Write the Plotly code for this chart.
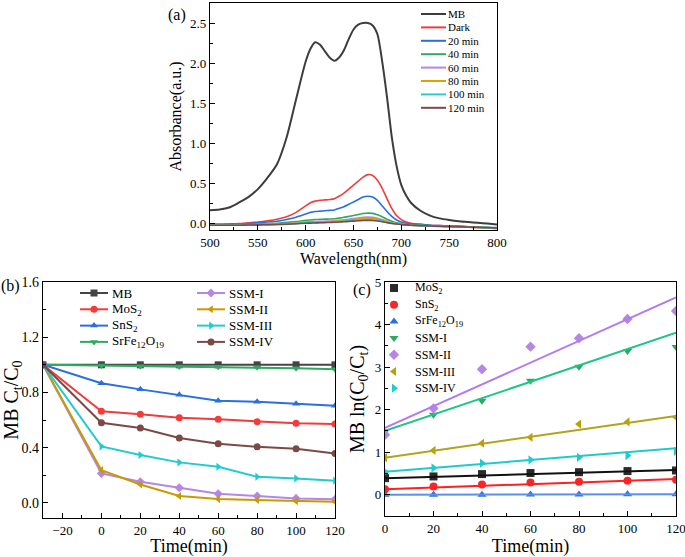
import plotly.graph_objects as go

# ---- (a) UV-vis spectra ----
wavelength = [500, 510, 520, 530, 540, 550, 560, 570, 580, 590,
              600, 605, 610, 615, 620, 625, 630, 635, 640, 645,
              650, 655, 660, 665, 670, 675, 680, 685, 690, 695,
              700, 705, 710, 720, 730, 740, 750, 760, 770, 780, 790, 800]

abs_mb = [0.165, 0.175, 0.20, 0.26, 0.33, 0.43, 0.57, 0.74, 1.07, 1.55,
          2.02, 2.18, 2.26, 2.23, 2.15, 2.07, 2.03, 2.07, 2.16, 2.30,
          2.42, 2.48, 2.50, 2.50, 2.47, 2.36, 2.02, 1.58, 1.08, 0.72,
          0.48, 0.35, 0.26, 0.16, 0.10, 0.065, 0.045, 0.03, 0.02, 0.01, 0.0, -0.01]
abs_dark = [-0.01, -0.01, -0.005, 0.0, 0.01, 0.02, 0.035, 0.055, 0.085, 0.14,
            0.22, 0.26, 0.28, 0.29, 0.295, 0.30, 0.31, 0.34, 0.38, 0.43,
            0.48, 0.53, 0.58, 0.61, 0.60, 0.54, 0.44, 0.31, 0.19, 0.10,
            0.05, 0.02, 0.005, -0.01, -0.02, -0.025, -0.03, -0.035, -0.04, -0.045, -0.055, -0.06]
abs_20 = [-0.01, -0.01, -0.01, -0.005, 0.0, 0.01, 0.02, 0.03, 0.05, 0.08,
          0.12, 0.14, 0.15, 0.155, 0.16, 0.165, 0.17, 0.19, 0.21, 0.24,
          0.27, 0.30, 0.33, 0.34, 0.33, 0.29, 0.22, 0.15, 0.09, 0.045,
          0.02, 0.005, -0.005, -0.01, -0.02, -0.025, -0.03, -0.035, -0.04, -0.045, -0.05, -0.05]
abs_40 = [-0.015, -0.015, -0.015, -0.01, -0.01, -0.005, 0.0, 0.005, 0.015, 0.025,
          0.04, 0.045, 0.05, 0.052, 0.055, 0.057, 0.06, 0.068, 0.078, 0.09,
          0.10, 0.113, 0.125, 0.13, 0.127, 0.11, 0.085, 0.055, 0.03, 0.01,
          0.0, -0.01, -0.015, -0.02, -0.025, -0.03, -0.03, -0.035, -0.04, -0.045, -0.05, -0.055]
abs_60 = [-0.02, -0.02, -0.02, -0.02, -0.015, -0.015, -0.01, -0.005, 0.0, 0.01,
          0.02, 0.022, 0.025, 0.027, 0.03, 0.032, 0.035, 0.04, 0.047, 0.055,
          0.062, 0.07, 0.077, 0.08, 0.077, 0.065, 0.05, 0.03, 0.012, 0.0,
          -0.008, -0.015, -0.02, -0.025, -0.03, -0.035, -0.04, -0.04, -0.045, -0.05, -0.055, -0.06]
abs_80 = [-0.02, -0.02, -0.02, -0.02, -0.015, -0.015, -0.01, -0.008, -0.003, 0.005,
          0.013, 0.016, 0.018, 0.02, 0.022, 0.025, 0.028, 0.032, 0.038, 0.044,
          0.05, 0.056, 0.062, 0.065, 0.062, 0.053, 0.04, 0.024, 0.01, 0.0,
          -0.01, -0.015, -0.02, -0.025, -0.03, -0.035, -0.04, -0.04, -0.045, -0.05, -0.055, -0.06]
abs_100 = [-0.02, -0.02, -0.02, -0.02, -0.018, -0.016, -0.013, -0.01, -0.006, 0.0,
           0.008, 0.01, 0.012, 0.014, 0.016, 0.018, 0.02, 0.024, 0.029, 0.034,
           0.039, 0.044, 0.048, 0.05, 0.048, 0.041, 0.03, 0.017, 0.005, -0.003,
           -0.01, -0.015, -0.02, -0.025, -0.03, -0.033, -0.036, -0.04, -0.043, -0.046, -0.05, -0.055]
abs_120 = [-0.02, -0.02, -0.02, -0.02, -0.018, -0.016, -0.014, -0.011, -0.008, -0.003,
           0.004, 0.006, 0.008, 0.01, 0.012, 0.014, 0.016, 0.019, 0.023, 0.027,
           0.031, 0.035, 0.038, 0.04, 0.038, 0.032, 0.023, 0.012, 0.002, -0.005,
           -0.011, -0.016, -0.02, -0.025, -0.03, -0.033, -0.036, -0.04, -0.043, -0.046, -0.05, -0.055]

spec_names = ["MB", "Dark", "20 min", "40 min", "60 min", "80 min", "100 min", "120 min"]
spec_data = [abs_mb, abs_dark, abs_20, abs_40, abs_60, abs_80, abs_100, abs_120]
spec_colors = ["#3d3d3d", "#f03c3c", "#2a6fdb", "#2faa60", "#b586e8", "#d9a300", "#20d0d0", "#7b4a48"]

# ---- (b) Ct/C0 vs time ----
time_b = [-30, 0, 20, 40, 60, 80, 100, 120]
ct_mb = [1.0, 1.0, 1.0, 1.0, 1.0, 1.0, 1.0, 1.0]
ct_mos2 = [1.0, 0.663, 0.641, 0.617, 0.605, 0.588, 0.576, 0.571]
ct_sns2 = [1.0, 0.866, 0.822, 0.783, 0.740, 0.733, 0.718, 0.704]
ct_srfe = [1.0, 0.995, 0.99, 0.988, 0.986, 0.982, 0.975, 0.967]
ct_ssm1 = [1.0, 0.213, 0.152, 0.109, 0.065, 0.049, 0.032, 0.025]
ct_ssm2 = [1.0, 0.237, 0.133, 0.049, 0.027, 0.02, 0.012, 0.008]
ct_ssm3 = [1.0, 0.409, 0.346, 0.293, 0.261, 0.189, 0.177, 0.16]
ct_ssm4 = [1.0, 0.58, 0.542, 0.469, 0.428, 0.406, 0.392, 0.358]

b_names = ["MB", "MoS<sub>2</sub>", "SnS<sub>2</sub>", "SrFe<sub>12</sub>O<sub>19</sub>",
           "SSM-I", "SSM-II", "SSM-III", "SSM-IV"]
b_data = [ct_mb, ct_mos2, ct_sns2, ct_srfe, ct_ssm1, ct_ssm2, ct_ssm3, ct_ssm4]
b_colors = ["#454545", "#f23b3b", "#2a6fdb", "#2faa60", "#b586e8", "#c99a00", "#20cccc", "#7b4a48"]
b_symbols = ["square", "circle", "triangle-up", "triangle-down",
             "diamond", "triangle-left", "triangle-right", "circle"]

# ---- (c) ln(C0/Ct) vs time with linear fits ----
time_c = [0, 20, 40, 60, 80, 100, 120]
ln_mos2 = [0.39, 0.43, 0.485, 0.51, 0.53, 0.556, 0.57]
ln_sns2 = [0.13, 0.195, 0.24, 0.29, 0.305, 0.33, 0.35]
ln_srfe = [0.0, 0.0, 0.0, 0.005, 0.005, 0.01, 0.01]
ln_ssm1 = [1.49, 1.88, 2.21, 2.68, 3.01, 3.38, 3.47]
ln_ssm2 = [1.41, 2.03, 2.95, 3.48, 3.68, 4.13, 4.32]
ln_ssm3 = [0.87, 1.04, 1.21, 1.35, 1.66, 1.71, 1.82]
ln_ssm4 = [0.54, 0.63, 0.74, 0.82, 0.88, 0.92, 1.02]

c_names = ["MoS<sub>2</sub>", "SnS<sub>2</sub>", "SrFe<sub>12</sub>O<sub>19</sub>",
           "SSM-I", "SSM-II", "SSM-III", "SSM-IV"]
c_data = [ln_mos2, ln_sns2, ln_srfe, ln_ssm1, ln_ssm2, ln_ssm3, ln_ssm4]
# fitted lines: intercept and slope
fit_intercept = [0.39, 0.13, 0.0, 1.50, 1.57, 0.87, 0.54]
fit_slope = [0.00158, 0.002, 0.00008, 0.01925, 0.02558, 0.00817, 0.00458]
c_marker_colors = ["#2b2b2b", "#f52828", "#2a6fe6", "#2fa862", "#b586e8", "#bba000", "#20cccc"]
c_line_colors = ["#111111", "#ff2020", "#5b8ff0", "#20c485", "#b07cf0", "#b3a21a", "#1ecbcb"]
c_symbols = ["square", "circle", "triangle-up", "triangle-down",
             "diamond", "triangle-left", "triangle-right"]

W, H = 685, 557
FONT = "Liberation Serif, Times New Roman, serif"

fig = go.Figure()

for name, ys, col in zip(spec_names, spec_data, spec_colors):
    fig.add_trace(go.Scatter(
        x=wavelength, y=ys, name=name, mode="lines",
        line=dict(color=col, width=2 if name == "MB" else 1.6, shape="spline", smoothing=0.7),
        xaxis="x", yaxis="y"
    ))

for name, ys, col, sym in zip(b_names, b_data, b_colors, b_symbols):
    fig.add_trace(go.Scatter(
        x=time_b, y=ys, name=name, mode="lines+markers",
        line=dict(color=col, width=2),
        marker=dict(symbol=sym, size=7, color=col),
        xaxis="x2", yaxis="y2"
    ))

for name, ys, a, b, mc, lc, sym in zip(c_names, c_data, fit_intercept, fit_slope,
                                       c_marker_colors, c_line_colors, c_symbols):
    fig.add_trace(go.Scatter(
        x=time_c, y=ys, name=name, mode="markers",
        marker=dict(symbol=sym, size=8, color=mc),
        xaxis="x3", yaxis="y3"
    ))
    fx = [time_c[0], time_c[-1]]
    fig.add_trace(go.Scatter(
        x=fx, y=[a + b * t for t in fx], mode="lines",
        line=dict(color=lc, width=2), xaxis="x3", yaxis="y3"
    ))

# ---- hand-built legends on a pixel overlay (row spacing tighter than plotly's legend allows) ----
annotations = []


def key(x0, x1, y, color, width, symbol=None, msize=7, line=True):
    if line:
        fig.add_trace(go.Scatter(x=[x0, x1], y=[y, y], mode="lines", line=dict(color=color, width=width),
                                 xaxis="x4", yaxis="y4", hoverinfo="skip"))
    if symbol:
        fig.add_trace(go.Scatter(x=[(x0 + x1) / 2], y=[y], mode="markers",
                                 marker=dict(symbol=symbol, size=msize, color=color),
                                 xaxis="x4", yaxis="y4", hoverinfo="skip"))


def label(x, y, text, size, xanchor="left"):
    annotations.append(dict(text=text, x=x / W, y=1 - y / H, xref="paper", yref="paper",
                            xanchor=xanchor, yanchor="middle", showarrow=False,
                            font=dict(family=FONT, size=size, color="black")))


for i, (name, col) in enumerate(zip(spec_names, spec_colors)):
    yy = 14 + 13.4 * i
    key(421, 446, yy, col, 2)
    label(446, yy, name, 11)

for i, (name, col, sym) in enumerate(zip(b_names, b_colors, b_symbols)):
    yy = 293 + 16.3 * (i % 4)
    x0 = 80 if i < 4 else 197
    key(x0, x0 + 28, yy, col, 2, sym, 7)
    label(x0 + 30, yy, name, 13)

for i, (name, col, sym) in enumerate(zip(c_names, c_marker_colors, c_symbols)):
    yy = 288 + 16.7 * i
    key(388, 400, yy, col, 0, sym, 8, line=False)
    label(413, yy, name, 12)

# panel letters
label(177, 15, "(a)", 16, "center")
label(10, 286, "(b)", 16, "center")
label(362, 290, "(c)", 16, "center")


def ax(domain, rng, dtick, minor_dtick, title, tick_size, title_size, anchor, fmt=None,
       tickvals=None, standoff=4):
    d = dict(
        domain=domain, range=rng, anchor=anchor, automargin=False,
        showline=True, linecolor="black", linewidth=1.3, mirror=True,
        ticks="inside", ticklen=5, tickwidth=1.2, tickcolor="black",
        minor=dict(ticks="inside", ticklen=3, tickwidth=1, tickcolor="black", dtick=minor_dtick),
        showgrid=False, zeroline=False, ticklabeloverflow="allow",
        tickfont=dict(family=FONT, size=tick_size, color="black"),
        title=dict(text=title, font=dict(family=FONT, size=title_size, color="black"), standoff=standoff),
    )
    if tickvals is not None:
        d["tickvals"] = tickvals
    else:
        d["dtick"] = dtick
    if fmt:
        d["tickformat"] = fmt
    return d


fig.update_layout(
    template="none",
    width=W, height=H,
    margin=dict(l=0, r=0, t=0, b=0, autoexpand=False),
    paper_bgcolor="white", plot_bgcolor="rgba(0,0,0,0)",
    showlegend=False,
    xaxis=ax([210 / W, 497 / W], [500, 800], 50, 25, "Wavelength(nm)", 13, 16, "y"),
    yaxis=ax([1 - 230 / H, 1 - 3 / H], [-0.08, 2.75], 0.5, 0.25, "Absorbance(a.u.)", 13, 16, "x", ".1f"),
    xaxis2=ax([43 / W, 335 / W], [-30, 120], None, 10, "Time(min)", 13, 18, "y2",
              tickvals=[-20, 0, 20, 40, 60, 80, 100, 120], standoff=5),
    yaxis2=ax([1 - 518 / H, 1 - 282 / H], [-0.11, 1.6], 0.4, 0.2, "MB C<sub>t</sub>/C<sub>0</sub>", 14, 20, "x2", ".1f"),
    xaxis3=ax([385 / W, 676 / W], [0, 120], 20, 10, "Time(min)", 13, 18, "y3", standoff=3),
    yaxis3=ax([1 - 516 / H, 1 - 282 / H], [-0.5, 5], 1, 0.5, "MB ln(C<sub>0</sub>/C<sub>t</sub>)", 13, 20, "x3"),
    xaxis4=dict(domain=[0, 1], range=[0, W], visible=False, fixedrange=True, anchor="y4"),
    yaxis4=dict(domain=[0, 1], range=[H, 0], visible=False, fixedrange=True, anchor="x4"),
    annotations=annotations,
)

# the page body has a default 8px margin; drop it so the figure sits at the window's corner
fig.write_html("out.html", config={"displayModeBar": False},
               post_script="document.body.style.margin='0';")
